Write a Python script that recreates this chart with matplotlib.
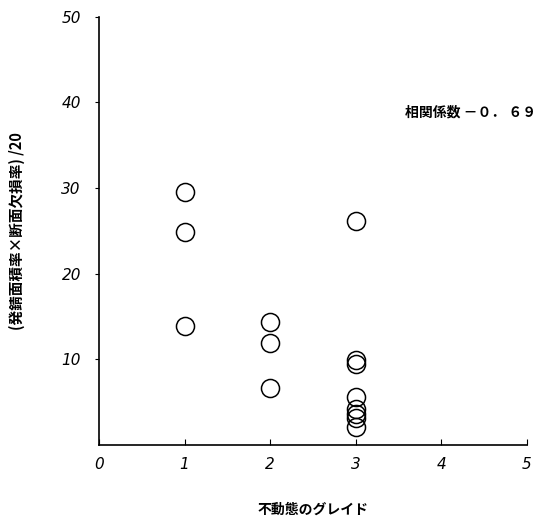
import matplotlib.pyplot as plt

plt.rcParams['font.family'] = ['Noto Sans CJK JP', 'DejaVu Sans']

# grade of passive film vs. (rust area ratio x section loss ratio) / 20
grade = [1, 1, 1, 2, 2, 2, 3, 3, 3, 3, 3, 3, 3, 3]
damage = [29.5, 24.9, 13.9, 14.4, 11.9, 6.6, 26.1, 9.9, 9.4, 5.6, 4.2, 3.6, 3.2, 2.1]

x_ticks = [0, 1, 2, 3, 4, 5]
y_ticks = [10, 20, 30, 40, 50]
corr_text = '相関係数 －０． ６９'

fig = plt.figure(figsize=(5.37, 5.25), dpi=100)
ax = fig.add_axes([0.1844, 0.1524, 0.797, 0.8156])

ax.plot(grade, damage, 'o', markersize=13, markerfacecolor='none',
        markeredgecolor='black', markeredgewidth=1.1, clip_on=False)

ax.set_xlim(0, 5)
ax.set_ylim(0, 50)
ax.spines['top'].set_visible(False)
ax.spines['right'].set_visible(False)
ax.spines['left'].set_linewidth(1.2)
ax.spines['bottom'].set_linewidth(1.2)

ax.set_xticks(x_ticks)
ax.set_yticks(y_ticks)
ax.set_xticklabels([str(v) for v in x_ticks], fontstyle='italic',
                   family='DejaVu Sans', fontsize=11)
ax.set_yticklabels([str(v) for v in y_ticks], fontstyle='italic',
                   family='DejaVu Sans', fontsize=11)
ax.tick_params(axis='x', direction='in', length=4, pad=9)
ax.tick_params(axis='y', direction='out', length=3, pad=10)

ax.set_xlabel('不動態のグレイド', fontsize=10, fontweight='bold', labelpad=22)
ax.set_ylabel('(発錆面積率×断面欠損率) /20', fontsize=10.5, fontweight='bold',
              labelpad=26)

ax.text(3.57, 38.8, corr_text, fontsize=10, fontweight='bold',
        va='center', ha='left', clip_on=False)

fig.savefig('out.png', dpi=100)
